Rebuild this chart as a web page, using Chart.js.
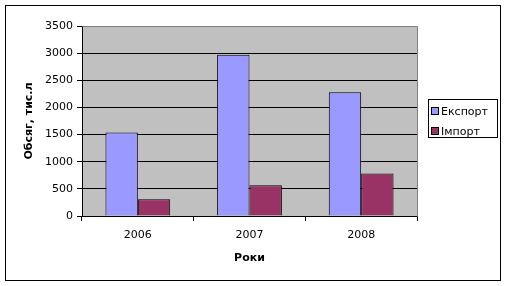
<!DOCTYPE html>
<html>
<head>
<meta charset="utf-8">
<script src="https://cdn.jsdelivr.net/npm/chart.js@4"></script>
<style>
  html, body { margin: 0; padding: 0; background: #fff; }
  #wrap { position: relative; width: 507px; height: 286px; }
  #legend {
    position: absolute; left: 428px; top: 99px; width: 68px; height: 37px;
    border: 1px solid #000; background: #fff;
    font: 11px "DejaVu Sans", sans-serif; color: #000;
  }
  #legend .item { position: absolute; left: 2px; height: 14px; line-height: 14px; white-space: nowrap; }
  #legend .sw { display: inline-block; width: 6px; height: 6px; border: 1px solid #000; margin-right: 2px; vertical-align: 0px; }
</style>
</head>
<body>
<div id="wrap">
  <canvas id="chart" width="507" height="286"></canvas>
  <div id="legend"></div>
</div>
<script>
// ---- data ----
const years   = ['2006', '2007', '2008'];
const exportV = [1540, 2970, 2280];
const importV = [310, 565, 785];
const seriesNames = ['Експорт', 'Імпорт'];
const yTicks = [0, 500, 1000, 1500, 2000, 2500, 3000, 3500];

const colors = ['#9999FF', '#993366'];
const FONT = '"DejaVu Sans", sans-serif';

// plot background + outer frame
const frame = {
  id: 'frame',
  beforeDraw(chart) {
    const { ctx, chartArea: a } = chart;
    ctx.save();
    ctx.fillStyle = '#C0C0C0';
    ctx.fillRect(a.left, a.top, a.right - a.left, a.bottom - a.top);
    ctx.restore();
  },
  afterDraw(chart) {
    const { ctx, chartArea: a } = chart;
    ctx.save();
    ctx.strokeStyle = '#808080';
    ctx.lineWidth = 1;
    ctx.beginPath();
    ctx.moveTo(Math.round(a.left) + 0.5, Math.round(a.top) + 0.5);
    ctx.lineTo(Math.round(a.right) + 0.5, Math.round(a.top) + 0.5);
    ctx.lineTo(Math.round(a.right) + 0.5, Math.round(a.bottom) + 0.5);
    ctx.stroke();
    ctx.strokeStyle = '#000';
    ctx.strokeRect(5.5, 5.5, 495, 275);
    ctx.restore();
  }
};

const chart = new Chart(document.getElementById('chart'), {
  type: 'bar',
  data: {
    labels: years,
    datasets: [
      { label: seriesNames[0], data: exportV, backgroundColor: colors[0], borderColor: '#000', borderWidth: 1 },
      { label: seriesNames[1], data: importV, backgroundColor: colors[1], borderColor: '#000', borderWidth: 1 }
    ]
  },
  options: {
    responsive: false,
    animation: false,
    devicePixelRatio: 1,
    layout: { padding: { left: 23, top: 26, right: 90, bottom: 21 } },
    datasets: { bar: { barPercentage: 1, categoryPercentage: 0.58 } },
    plugins: { legend: { display: false }, tooltip: { enabled: false } },
    scales: {
      x: {
        grid: { drawOnChartArea: false, drawTicks: true, tickLength: 5, offset: true, color: '#000' },
        border: { color: '#000' },
        ticks: { color: '#000', font: { family: FONT, size: 11 }, padding: 8 },
        title: { display: true, text: 'Роки', color: '#000', font: { family: FONT, size: 11, weight: 'bold' }, padding: { top: 6, bottom: 0 } },
        afterFit(s) { s.height = 49; }
      },
      y: {
        min: 0, max: 3500,
        afterBuildTicks(s) { s.ticks = yTicks.map(v => ({ value: v })); },
        grid: { color: '#000', tickLength: 5 },
        border: { color: '#000' },
        ticks: { color: '#000', font: { family: FONT, size: 11 }, padding: 4, callback: v => String(v) },
        title: { display: true, text: 'Обсяг, тис.л', color: '#000', font: { family: FONT, size: 11, weight: 'bold' }, padding: { top: 0, bottom: 0 } },
        afterFit(s) { s.width = 59; }
      }
    }
  },
  plugins: [frame]
});

// html legend from the same series
const leg = document.getElementById('legend');
seriesNames.forEach((name, i) => {
  const it = document.createElement('div');
  it.className = 'item';
  it.style.top = (5 + i * 20) + 'px';
  it.innerHTML = '<span class="sw" style="background:' + colors[i] + '"></span>' + name;
  leg.appendChild(it);
});
</script>
</body>
</html>
